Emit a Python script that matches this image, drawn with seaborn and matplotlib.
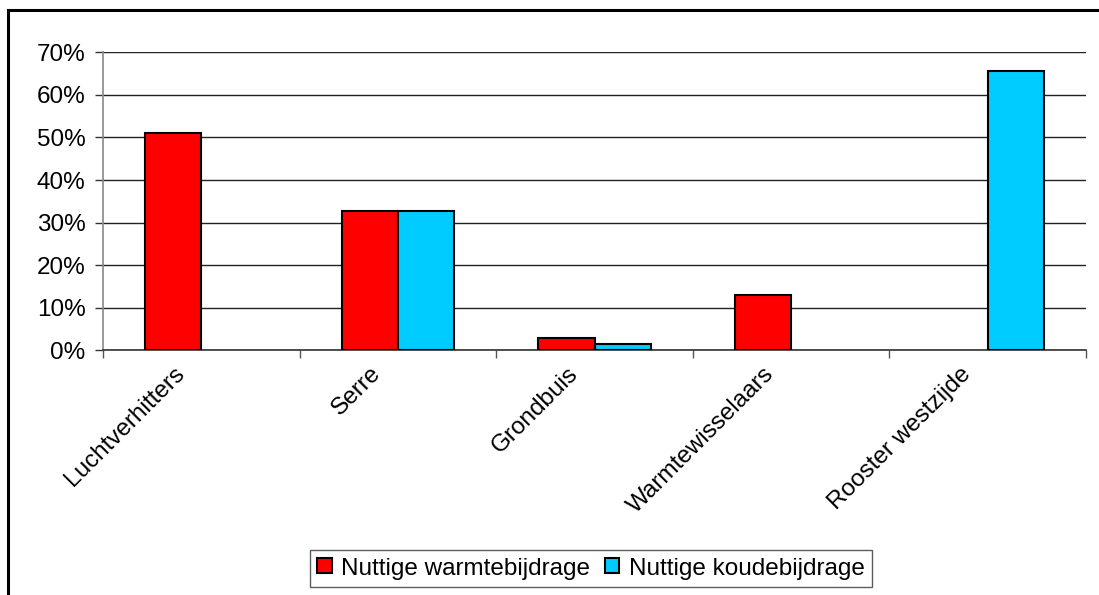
import numpy as np
import pandas as pd
import matplotlib
matplotlib.use("Agg")
import matplotlib.pyplot as plt
from matplotlib.patches import Rectangle
from matplotlib.ticker import PercentFormatter, FixedLocator
from matplotlib.transforms import ScaledTranslation
import seaborn as sns

categories = ["Luchtverhitters", "Serre", "Grondbuis", "Warmtewisselaars", "Rooster westzijde"]
warm = [51.1, 32.8, 2.8, 13.1, None]
koude = [None, 32.8, 1.4, None, 65.7]
series = ["Nuttige warmtebijdrage", "Nuttige koudebijdrage"]
colors = ["#FF0000", "#00CCFF"]

rows = []
for cat, w, k in zip(categories, warm, koude):
    if w is not None:
        rows.append({"cat": cat, "serie": series[0], "val": w})
    if k is not None:
        rows.append({"cat": cat, "serie": series[1], "val": k})
df = pd.DataFrame(rows)

sns.set_theme(style="white")
plt.rcParams["font.family"] = ["Liberation Sans", "DejaVu Sans"]
plt.rcParams["text.color"] = "black"
plt.rcParams["xtick.color"] = "black"
plt.rcParams["ytick.color"] = "black"

FS = 17.5

fig = plt.figure(figsize=(10.99, 5.95), dpi=100)
ax = fig.add_axes([103 / 1099, 1 - 350.3 / 595, (1086 - 103) / 1099, (350.3 - 52.3) / 595])

sns.barplot(data=df, x="cat", y="val", hue="serie", order=categories, hue_order=series,
            palette=colors, width=0.57, edgecolor="black", linewidth=1.5,
            saturation=1, errorbar=None, ax=ax, zorder=3, legend=True)

ax.set_ylim(0, 70)
ax.set_xlim(-0.5, len(categories) - 0.5)
ax.set_yticks(np.arange(0, 71, 10))
ax.yaxis.set_major_formatter(PercentFormatter(decimals=0))
ax.yaxis.grid(True, color="#222222", linewidth=1.0, zorder=0)
ax.set_axisbelow(True)
ax.set_xlabel("")
ax.set_ylabel("")

# category labels sit at centres, ticks at category boundaries
ax.set_xticks(np.arange(len(categories)))
ax.set_xticklabels(categories, rotation=45, ha="right", va="center",
                   rotation_mode="anchor", fontsize=FS)
ax.tick_params(axis="x", which="major", bottom=True, length=0, pad=14.5)
shift = ScaledTranslation(-20 / 100, 0, fig.dpi_scale_trans)
for lab in ax.get_xticklabels():
    lab.set_transform(lab.get_transform() + shift)
ax.xaxis.set_minor_locator(FixedLocator(np.arange(-0.5, len(categories), 1.0)))
ax.tick_params(axis="x", which="minor", bottom=True, length=5.5, width=1.0,
               color="#555555", direction="out")
ax.tick_params(axis="y", left=True, length=5.5, width=1.0, color="#333333", direction="out",
               labelsize=FS, pad=7)

for side in ["top", "right"]:
    ax.spines[side].set_visible(False)
ax.spines["left"].set_color("#888888")
ax.spines["left"].set_linewidth(1.2)
ax.spines["bottom"].set_color("#333333")
ax.spines["bottom"].set_linewidth(1.2)

handles, labels = ax.get_legend_handles_labels()
ax.legend_.remove()
leg = fig.legend(handles, labels, ncol=2, loc="center",
                 bbox_to_anchor=(591 / 1099, 1 - 568.5 / 595),
                 frameon=True, fancybox=False, edgecolor="#333333", fontsize=FS,
                 handlelength=0.58, handleheight=0.58, handletextpad=0.4,
                 columnspacing=0.6, borderpad=0.32, borderaxespad=0)
leg.get_frame().set_linewidth(1.0)

# outer chart frame
fig.patches.append(Rectangle((8 / 1099, -0.1), 1.2, 1.1 - 10 / 595, transform=fig.transFigure,
                             fill=False, edgecolor="black", linewidth=2.2, zorder=10))

fig.savefig("out.png", dpi=100, facecolor="white")
